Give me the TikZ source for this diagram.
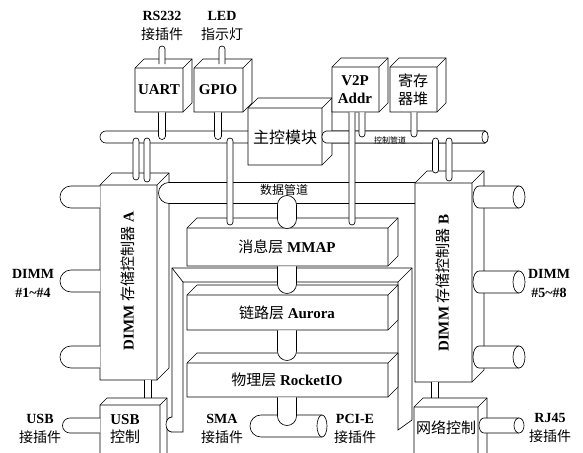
\documentclass[tikz,border=0pt]{standalone}
\usepackage{fontspec}
\setmainfont{Liberation Serif}
\newfontfamily\cjk{Noto Sans CJK SC}
\newcommand{\zh}[1]{{\cjk\mdseries #1}}

% 立体方块：正面左上角 (#1,#2)，右下角 (#3,#4)，进深 #5
\newcommand{\solidbox}[5]{%
  \draw[fill=white] (#1,#2) -- ++(#5,-#5) -- (#3+#5,#2-#5) -- (#3+#5,#4-#5)
    -- (#3,#4) -- (#1,#4) -- cycle;
  \draw (#1,#2) -- (#3,#2) -- (#3,#4) (#3,#2) -- (#3+#5,#2-#5);}
% 竖管（x, 上端, 下端, 半宽），下端圆头
\newcommand{\pipedown}[4]{%
  \draw[fill=white] (#1-#4,#2) -- (#1-#4,#3) arc[start angle=180,end angle=0,radius=#4] -- (#1+#4,#2);}
% 竖管，上端圆头
\newcommand{\pipeup}[4]{%
  \draw[fill=white] (#1-#4,#3) -- (#1-#4,#2) arc[start angle=180,end angle=360,radius=#4] -- (#1+#4,#3);}
% 竖管，两端圆头
\newcommand{\pipeboth}[4]{%
  \draw[fill=white] (#1-#4,#2) -- (#1-#4,#3) arc[start angle=180,end angle=0,radius=#4]
    -- (#1+#4,#2) arc[start angle=0,end angle=-180,radius=#4] -- cycle;}
% 竖管，两端平
\newcommand{\pipestraight}[4]{%
  \fill[white] (#1-#4,#2) rectangle (#1+#4,#3);
  \draw (#1-#4,#2) -- (#1-#4,#3) (#1+#4,#2) -- (#1+#4,#3);}
% 横管（左圆心 x, 右端 x, y, 半径），左端圆头
\newcommand{\pipeleft}[4]{%
  \draw[fill=white] (#2,#3-#4) -- (#1,#3-#4) arc[start angle=270,end angle=90,radius=#4] -- (#2,#3+#4);}
% 圆柱横管：左端半椭圆，右端椭圆盖
\newcommand{\pipecyl}[6]{%
  \draw[fill=white] (#2,#3-#4) -- (#1,#3-#4)
    arc[start angle=270,end angle=90,x radius=#5,y radius=#4] -- (#2,#3+#4);
  \draw[fill=white] (#2,#3) ellipse[x radius=#6,y radius=#4];}

\begin{document}
\begin{tikzpicture}[x=1pt, y=-1pt, line width=0.65pt,
  tag/.style={font=\bfseries\fontsize{14}{19}\selectfont, align=center, inner sep=0pt},
  boxtext/.style={font=\bfseries\fontsize{15}{18}\selectfont, align=center, inner sep=0pt}]
  \useasboundingbox (0,0) rectangle (583,452);
  \clip (0,0) rectangle (583,452);

  % 控制管道（在主控模块后面）
  \pipecyl{106}{485}{137}{6}{6}{3}
  \solidbox{248}{108}{322}{165}{10}
  \pipecyl{326}{485}{137}{6}{4}{3}
  \node (ctrlpipe) at (390,140) {\fontsize{8}{9}\selectfont\zh{控制管道}};

  % 上排方块
  \solidbox{135}{68}{183}{112}{9}
  \solidbox{194}{68}{243}{112}{9}
  \solidbox{332}{67}{379}{112}{9}
  \solidbox{390}{67}{437}{112}{9}
  \pipeup{162}{49}{64}{3}
  \pipeup{222}{49}{64}{3}
  \pipedown{162}{112.4}{136}{3.5}
  \pipedown{218}{112.4}{136}{3.5}
  \pipedown{362}{112.4}{134}{3}
  \pipedown{414}{112.4}{134}{3}

  % 两个 DIMM 存储控制器和数据管道
  \solidbox{100}{185}{157}{380}{12}
  \pipeleft{169}{415}{193}{10.5}
  \solidbox{415}{183}{472}{382}{12}
  \pipeboth{136}{141}{177}{3}
  \pipeboth{147}{141}{179}{3}
  \pipeboth{435.5}{141}{170}{3}
  \pipeboth{449}{141}{178}{3}
  \node (datapipe) at (284,190) {\fontsize{12}{14}\selectfont\zh{数据管道}};

  % 外框：USB 控制 -- 网络控制
  \draw[fill=white] (183,432) -- (183,282) -- (398,282) -- (398,430) -- (412,420)
    -- (412,268) -- (172,268) -- (172,417)
    arc[start angle=270,end angle=90,x radius=6,y radius=7.5] -- cycle;
  \draw (172,268) -- (183,282) (412,268) -- (398,282);

  % 三层
  \solidbox{187}{228}{388}{266}{10}
  \solidbox{187}{295}{388}{330}{10}
  \solidbox{187}{363}{388}{397}{10}
  \pipeboth{230}{141}{222}{3}
  \pipedown{352}{112.4}{222}{3}
  \pipeboth{287}{205}{219}{9.5}
  \pipedown{287}{266.4}{284}{9.5}
  \pipedown{287}{330.4}{351}{9.5}
  \pipecyl{261}{322}{426}{11}{11}{5}
  \pipedown{287}{397.4}{416}{9.5}

  % DIMM 插槽
  \pipeleft{71}{100}{197}{11}
  \pipeleft{71}{100}{281}{11}
  \pipeleft{71}{100}{357}{11}
  \pipecyl{479}{519}{197}{11}{6}{6}
  \pipecyl{479}{519}{282}{11}{6}{6}
  \pipecyl{479}{519}{357}{11}{6}{6}

  % USB 控制、网络控制
  \pipestraight{148}{380.4}{402}{3.5}
  \solidbox{100}{405}{160}{470}{7}
  \pipeleft{70}{100}{425.5}{7.5}
  \draw[fill=white] (172,417) arc[start angle=270,end angle=90,x radius=6,y radius=7.5];
  \pipestraight{435}{382.4}{403}{3.5}
  \solidbox{414}{407}{478}{470}{9}
  \pipecyl{484}{519}{425.5}{7.5}{5}{5}

  % 文字
  \node[tag] (rs232) at (162,26) {RS232\\\zh{接插件}};
  \node[tag] (led) at (222,26) {LED\\\zh{指示灯}};
  \node[boxtext] (uart) at (159,90) {UART};
  \node[boxtext] (gpio) at (218,90) {GPIO};
  \node[boxtext] (v2p) at (355,90) {V2P\\Addr};
  \node[boxtext] (regfile) at (413,90) {\zh{寄存}\\\zh{器堆}};
  \node[boxtext, font=\fontsize{16}{18}\selectfont] (master) at (285,137) {\zh{主控模块}};
  \node[boxtext, rotate=90] (dimma) at (128,281) {DIMM \zh{存储控制器} A};
  \node[boxtext, rotate=90] (dimmb) at (443,283) {DIMM \zh{存储控制器} B};
  \node[boxtext] (mmap) at (287,247) {\zh{消息层} MMAP};
  \node[boxtext] (aurora) at (287,313) {\zh{链路层} Aurora};
  \node[boxtext] (rocketio) at (287,380) {\zh{物理层} RocketIO};
  \node[boxtext] (usbctrl) at (125,429) {USB\\\zh{控制}};
  \node[boxtext] (netctrl) at (446,428) {\zh{网络控制}};
  \node[tag] (dimmleft) at (33,283) {DIMM\\\#1\textasciitilde\#4};
  \node[tag] (usbport) at (40,429) {USB\\\zh{接插件}};
  \node[tag] (smaport) at (222,429) {SMA\\\zh{接插件}};
  \node[tag] (pcieport) at (355,429) {PCI-E\\\zh{接插件}};
  \node[tag] (dimmright) at (549,283) {DIMM\\\#5\textasciitilde\#8};
  \node[tag] (rj45port) at (550,428) {RJ45\\\zh{接插件}};
\end{tikzpicture}
\end{document}
